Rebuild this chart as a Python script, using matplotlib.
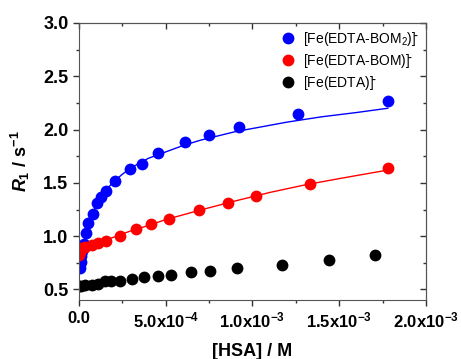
import numpy as np
import matplotlib.pyplot as plt
from matplotlib.ticker import MultipleLocator, FuncFormatter, NullFormatter

plt.rcParams['font.family'] = ['Liberation Sans', 'DejaVu Sans']
plt.rcParams['mathtext.fontset'] = 'custom'
plt.rcParams['mathtext.rm'] = 'Liberation Sans:bold'
plt.rcParams['mathtext.it'] = 'Liberation Sans:italic:bold'
plt.rcParams['mathtext.bf'] = 'Liberation Sans:bold'
plt.rcParams['mathtext.sf'] = 'Liberation Sans'

# [HSA] in units of 1e-4 M
bom2_x = [0.05, 0.1, 0.15, 0.2, 0.3, 0.4, 0.55, 0.8, 1.05, 1.3, 1.55, 2.1, 2.95,
          3.65, 4.55, 6.1, 7.5, 9.25, 12.65, 17.8]
bom2_y = [0.70, 0.76, 0.81, 0.86, 0.93, 1.03, 1.12, 1.21, 1.31, 1.37, 1.42, 1.52, 1.63,
          1.68, 1.78, 1.88, 1.95, 2.02, 2.15, 2.27]
bom2_fit_x = [0, 0.25, 0.5, 0.75, 1.0, 1.5, 2.0, 2.5, 3.0, 4.0, 5.0, 6.0, 7.0, 8.0,
              9.0, 10, 12, 14, 16, 17.8]
bom2_fit_y = [0.70, 0.92, 1.08, 1.20, 1.29, 1.42, 1.51, 1.58, 1.64, 1.73, 1.79, 1.85,
              1.90, 1.94, 1.98, 2.01, 2.07, 2.12, 2.16, 2.20]

bom_x = [0.03, 0.06, 0.1, 0.15, 0.38, 0.73, 1.11, 1.56, 2.36, 3.29, 4.15, 5.19, 6.92,
         8.57, 10.18, 13.31, 17.83]
bom_y = [0.82, 0.85, 0.88, 0.89, 0.90, 0.92, 0.935, 0.95, 1.00, 1.07, 1.11, 1.16, 1.25,
         1.31, 1.38, 1.485, 1.64]
bom_fit_x = [0, 0.1, 0.25, 0.5, 1.0, 1.5, 2.0, 3.0, 4.0, 5.0, 7.0, 9.0, 11, 13, 15, 17.8]
bom_fit_y = [0.80, 0.86, 0.89, 0.91, 0.935, 0.96, 0.99, 1.05, 1.10, 1.155, 1.245, 1.33,
             1.41, 1.48, 1.54, 1.62]

edta_x = [0.02, 0.15, 0.35, 0.73, 1.11, 1.5, 1.84, 2.4, 3.07, 3.76, 4.57, 5.3, 6.49,
          7.57, 9.09, 11.7, 14.41, 17.08]
edta_y = [0.53, 0.535, 0.54, 0.545, 0.555, 0.575, 0.58, 0.58, 0.598, 0.62, 0.63, 0.64,
          0.66, 0.673, 0.70, 0.73, 0.78, 0.823]

labels = ['[Fe(EDTA-BOM$\\mathsf{_2}$)]$^{\\bar{}}$',
          '[Fe(EDTA-BOM)]$^{\\bar{}}$',
          '[Fe(EDTA)]$^{\\bar{}}$']

fig = plt.figure(figsize=(4.61, 3.59), dpi=100)
ax = fig.add_axes([0.171, 0.164, 0.753, 0.772])

sc = 1e-4
ax.plot(np.array(bom2_fit_x) * sc, bom2_fit_y, color='blue', lw=1)
ax.plot(np.array(bom_fit_x) * sc, bom_fit_y, color='red', lw=1)
ax.plot(np.array(bom2_x) * sc, bom2_y, 'o', color='blue', ms=8.5, mec='none', label=labels[0])
ax.plot(np.array(bom_x) * sc, bom_y, 'o', color='red', ms=8.5, mec='none', label=labels[1])
ax.plot(np.array(edta_x) * sc, edta_y, 'o', color='black', ms=8.5, mec='none', label=labels[2])

ax.set_xlim(0, 2e-3)
ax.set_ylim(0.4, 3.0)


def xfmt(v, pos):
    if abs(v) < 1e-12:
        return '0.0'
    e = int(np.floor(np.log10(abs(v)) + 1e-9))
    m = v / 10 ** e
    return '%.1fx10$^{%d}$' % (m, e)


ax.xaxis.set_major_locator(MultipleLocator(5e-4))
ax.xaxis.set_minor_locator(MultipleLocator(2.5e-4))
ax.yaxis.set_major_locator(MultipleLocator(0.5))
ax.yaxis.set_minor_locator(MultipleLocator(0.25))

ax.xaxis.set_major_formatter(FuncFormatter(xfmt))
ax.yaxis.set_major_formatter(FuncFormatter(lambda v, p: '%.1f' % v))
ax.tick_params(which='both', direction='out', width=1, color='#333333')
ax.tick_params(axis='y', labelsize=13)
ax.tick_params(axis='x', labelsize=12)
ax.tick_params(which='major', length=4)
ax.tick_params(which='minor', length=2.5)
for t in ax.get_xticklabels() + ax.get_yticklabels():
    t.set_fontweight('bold')

# top and right ticks point inward
top = ax.secondary_xaxis('top')
top.xaxis.set_major_locator(MultipleLocator(5e-4))
top.xaxis.set_minor_locator(MultipleLocator(2.5e-4))
top.xaxis.set_major_formatter(NullFormatter())
top.tick_params(which='both', direction='in', width=1, color='#333333')
top.tick_params(which='major', length=4)
top.tick_params(which='minor', length=2.5)
right = ax.secondary_yaxis('right')
right.yaxis.set_major_locator(MultipleLocator(0.5))
right.yaxis.set_minor_locator(MultipleLocator(0.25))
right.yaxis.set_major_formatter(NullFormatter())
right.tick_params(which='both', direction='in', width=1, color='#333333')
right.tick_params(which='major', length=4)
right.tick_params(which='minor', length=2.5)
for s in list(ax.spines.values()) + [top.spines['top'], right.spines['right']]:
    s.set_color('#555555')

ax.set_xlabel('[HSA] / M', fontsize=13, fontweight='bold', labelpad=9)
ax.set_ylabel('$\\mathit{R}_1$ / s$^{-1}$', fontsize=13, fontweight='bold', labelpad=8)

ax.legend(loc='upper right', frameon=False, fontsize=10, handletextpad=0.25,
          labelspacing=0.3, borderaxespad=0.1, markerscale=1.0, handlelength=1.6)

fig.savefig('out.png', dpi=100)
